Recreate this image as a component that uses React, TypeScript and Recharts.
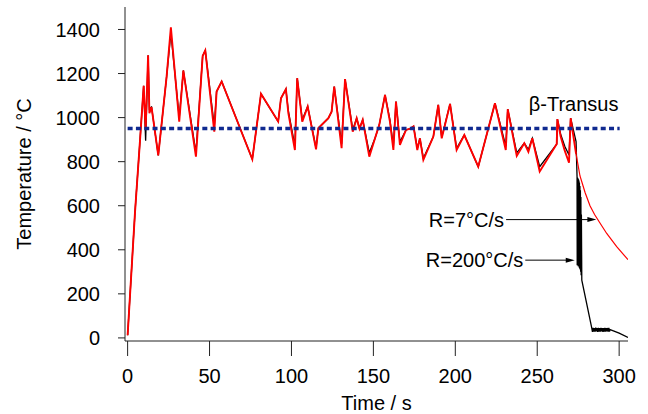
import React from 'react';
import { LineChart, Line, XAxis, YAxis, ReferenceLine, ReferenceDot } from 'recharts';

// Heating / thermal-cycling phase (shared time base), seconds
const heatTimes = [0, 4.5, 7.5, 9.8, 11.0, 12.5, 13.3, 14.6, 18.7, 23.8, 26.4, 31.5, 34.0, 41.7, 45.8, 47.4, 52.9, 54.3, 57.4, 76.1, 81.4, 91.9, 93.6, 96.6, 98.1, 102.1, 103.5, 106.6, 109.9, 115.0, 116.4, 122.5, 124.5, 126.1, 130.6, 132.7, 137.4, 139.8, 141.5, 143.5, 147.5, 151.0, 153.6, 157.1, 160.1, 162.2, 163.8, 166.2, 169.9, 172.5, 174.5, 176.8, 178.4, 180.5, 186.6, 189.6, 191.7, 196.8, 200.8, 205.5, 214.0, 224.2, 230.8, 232.0, 237.5, 242.1, 244.6, 247.0, 251.5, 261.9, 262.3, 264.3, 266.8, 269.4, 270.4, 273.7];

// R = 7 °C/s sample (red), °C
const redHeat = [12, 570, 890, 1144, 945, 1283, 1020, 1048, 828, 1186, 1410, 982, 1214, 823, 1280, 1305, 936, 1118, 1164, 811, 1108, 982, 1088, 1129, 1020, 853, 1179, 982, 1050, 856, 952, 997, 1027, 1141, 861, 1175, 936, 997, 950, 990, 823, 906, 967, 1103, 982, 853, 1073, 876, 944, 950, 960, 853, 906, 808, 914, 1058, 906, 1062, 853, 921, 777, 1065, 853, 1038, 826, 884, 845, 906, 755, 880, 993, 914, 850, 795, 997, 835];

// R = 200 °C/s sample (black), °C
const blackHeat = [12, 570, 890, 1144, 895, 1283, 1040, 1048, 828, 1186, 1385, 1000, 1214, 840, 1280, 1305, 960, 1118, 1164, 811, 1108, 982, 1088, 1129, 1030, 870, 1179, 990, 1050, 862, 952, 997, 1027, 1141, 880, 1175, 945, 997, 950, 990, 840, 906, 967, 1103, 990, 870, 1073, 890, 944, 950, 960, 860, 906, 815, 914, 1058, 910, 1062, 860, 921, 777, 1065, 870, 1038, 840, 884, 855, 906, 777, 880, 993, 925, 870, 830, 997, 891];

// Cooling phase, red (7 °C/s)
const redCoolTimes = [273.7, 276.1, 279.2, 282.2, 285.0, 288.0, 292.4, 298.5, 305.4];
const redCool = [835, 735, 660, 600, 560, 525, 474, 414, 355];

// Cooling phase, black (200 °C/s) – oscillating quench band then plateau
const blackCoolTimes = [274.3, 274.4, 274.55, 274.7, 274.85, 275.0, 275.15, 275.3, 275.45, 275.6, 275.75, 275.9, 276.05, 276.2, 276.35, 276.5, 276.65, 276.8, 276.95, 277.2, 283.3, 283.7, 284.1, 284.5, 284.9, 285.3, 285.7, 286.1, 286.5, 286.9, 287.3, 287.7, 288.1, 288.5, 288.9, 289.3, 289.7, 290.1, 290.5, 290.9, 291.3, 291.7, 292.1, 292.5, 292.9, 293.3, 293.7, 294.1, 294.5, 300.0, 305.4];
const blackCool = [732, 330, 728, 335, 725, 325, 720, 330, 715, 320, 705, 315, 690, 310, 670, 300, 640, 285, 560, 262, 44, 27, 46, 29, 45, 28, 47, 30, 44, 27, 46, 29, 45, 28, 46, 30, 44, 27, 45, 29, 46, 28, 44, 30, 45, 28, 46, 29, 38, 22, 2];

const xTicks = [0, 50, 100, 150, 200, 250, 300];
const yTicks = [0, 200, 400, 600, 800, 1000, 1200, 1400];
const betaTransus = 950;

const redHeatData = heatTimes.map((t, i) => ({ t, v: redHeat[i] }));
const redCoolData = redCoolTimes.map((t, i) => ({ t, v: redCool[i] }));
const blackData = heatTimes.map((t, i) => ({ t, v: blackHeat[i] })).concat(blackCoolTimes.map((t, i) => ({ t, v: blackCool[i] })));

const FONT = '"Liberation Sans", Arial, Helvetica, sans-serif';

const ArrowHead = (p: any) => (
  <path d={`M${p.cx},${p.cy} L${p.cx - 9},${p.cy - 2.5} L${p.cx - 9},${p.cy + 2.5} Z`} fill="#000" />
);

export default function App() {
  return (
    <div style={{ position: 'absolute', left: 0, top: 0, background: '#fff' }}>
      <LineChart
        width={648}
        height={414}
        margin={{ top: 7, right: 20, bottom: 0, left: 0 }}
        style={{ fontFamily: FONT }}
      >
        <XAxis
          type="number"
          dataKey="t"
          domain={[-1.6, 305.4]}
          allowDataOverflow
          ticks={xTicks}
          height={73}
          tickSize={15}
          tickMargin={13}
          stroke="#222"
          tick={{ fontSize: 20, fill: '#000' }}
          label={{ value: 'Time / s', position: 'insideBottom', offset: 4, fontSize: 20, fill: '#000' }}
        />
        <YAxis
          type="number"
          domain={[-14, 1502]}
          allowDataOverflow
          ticks={yTicks}
          width={125}
          tickSize={7}
          tickMargin={18}
          stroke="#222"
          tick={{ fontSize: 20, fill: '#000' }}
          label={{
            value: 'Temperature / °C',
            angle: -90,
            position: 'insideLeft',
            offset: 24,
            fontSize: 20,
            fill: '#000',
            style: { textAnchor: 'middle' },
          }}
        />
        <Line data={blackData} dataKey="v" type="linear" stroke="#000" strokeWidth={1.3} dot={false} isAnimationActive={false} />
        <Line data={redHeatData} dataKey="v" type="linear" stroke="#ff0000" strokeWidth={1.9} dot={false} isAnimationActive={false} />
        <Line data={redCoolData} dataKey="v" type="linear" stroke="#ff0000" strokeWidth={1.2} dot={false} isAnimationActive={false} />
        <ReferenceLine
          segment={[{ x: 0, y: betaTransus }, { x: 300.3, y: betaTransus }]}
          stroke="#102a90"
          strokeWidth={3.5}
          strokeDasharray="5 3.3"
          zIndex={600}
        />
        <ReferenceDot x={272.2} y={1062} r={1} fill="none" stroke="none"
          label={{ value: 'β-Transus', position: 'center', fontSize: 20, fill: '#000' }} />
        <ReferenceLine segment={[{ x: 231, y: 537 }, { x: 283, y: 537 }]} stroke="#000" strokeWidth={1} zIndex={600} />
        <ReferenceDot x={286.1} y={537} r={1} shape={ArrowHead} zIndex={600} />
        <ReferenceDot x={231} y={537} r={1} fill="none" stroke="none"
          label={{ value: 'R=7°C/s', position: 'left', offset: 1, fontSize: 20, fill: '#000' }} />
        <ReferenceLine segment={[{ x: 242.7, y: 353 }, { x: 270, y: 353 }]} stroke="#000" strokeWidth={1} zIndex={600} />
        <ReferenceDot x={272.9} y={353} r={1} shape={ArrowHead} zIndex={600} />
        <ReferenceDot x={242.7} y={353} r={1} fill="none" stroke="none"
          label={{ value: 'R=200°C/s', position: 'left', offset: 1, fontSize: 20, fill: '#000' }} />
      </LineChart>
    </div>
  );
}
